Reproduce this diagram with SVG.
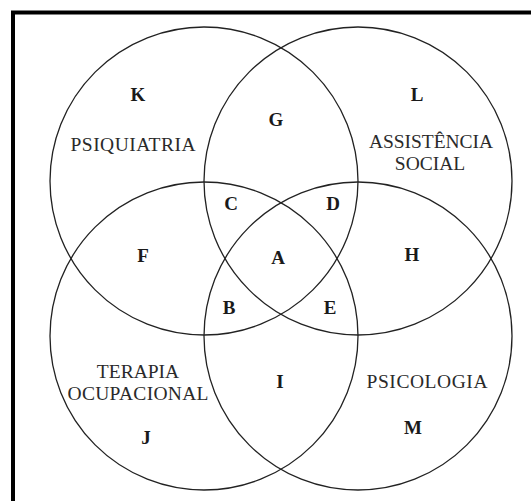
<svg xmlns="http://www.w3.org/2000/svg" width="531" height="501" viewBox="0 0 531 501">
<style>
.c{fill:none;stroke:#222;stroke-width:1.3}
.l{font-family:"Liberation Serif",serif;font-weight:bold;font-size:19px;fill:#1a1a1a;text-anchor:middle}
.t{font-family:"Liberation Serif",serif;font-size:19.5px;fill:#2a2a2a;text-anchor:middle}
</style>
<rect width="531" height="501" fill="#fff"/>
<path d="M13,501 V12.5 H531" fill="none" stroke="#000" stroke-width="4"/>
<g id="connectors"></g>
<g id="psiquiatria"><circle class="c" cx="204" cy="181" r="154"/><text class="t" x="133" y="151" textLength="125">PSIQUIATRIA</text></g>
<g id="assistencia"><circle class="c" cx="358" cy="181" r="154"/><text class="t" x="431" y="148" textLength="124">ASSISTÊNCIA</text><text class="t" x="430" y="170">SOCIAL</text></g>
<g id="terapia"><circle class="c" cx="204" cy="336" r="154"/><text class="t" x="138" y="378">TERAPIA</text><text class="t" x="138" y="400" textLength="141">OCUPACIONAL</text></g>
<g id="psicologia"><circle class="c" cx="358" cy="336" r="154"/><text class="t" x="427" y="388" textLength="121">PSICOLOGIA</text></g>
<g id="regions">
<text class="l" x="138" y="101">K</text>
<text class="l" x="417" y="101">L</text>
<text class="l" x="276" y="126">G</text>
<text class="l" x="231" y="210">C</text>
<text class="l" x="333" y="210">D</text>
<text class="l" x="278" y="264">A</text>
<text class="l" x="143" y="262">F</text>
<text class="l" x="412" y="261">H</text>
<text class="l" x="229" y="314">B</text>
<text class="l" x="330" y="314">E</text>
<text class="l" x="280" y="388">I</text>
<text class="l" x="146" y="444">J</text>
<text class="l" x="413" y="434">M</text>
</g>
</svg>
